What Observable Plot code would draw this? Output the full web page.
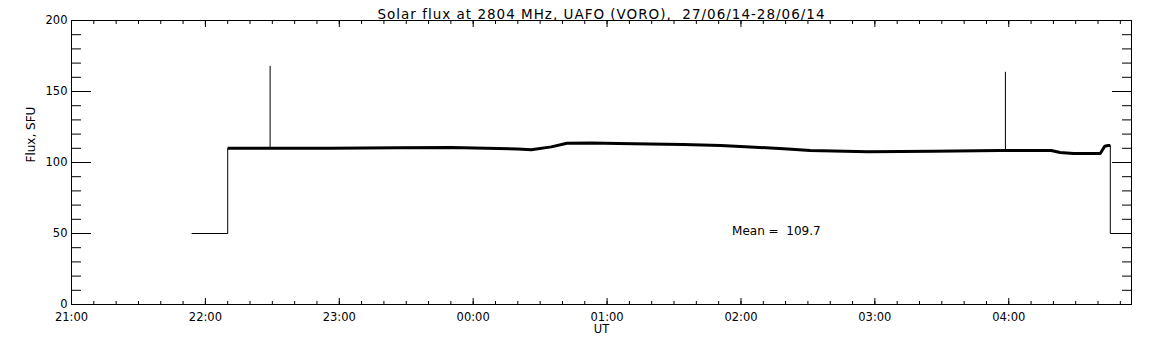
<!DOCTYPE html>
<html><head><meta charset="utf-8">
<script src="https://cdn.jsdelivr.net/npm/d3@7"></script>
<script src="https://cdn.jsdelivr.net/npm/@observablehq/plot@0.6"></script>
<style>html,body{margin:0;padding:0;background:#fff} svg{display:block}</style>
</head><body><div id="chart"></div>
<script>
// ---- data ----
const title = "Solar flux at 2804 MHz, UAFO (VORO),  27/06/14-28/06/14";
const yLabel = "Flux, SFU";
const xLabel = "UT";
const meanValue = 109.7;
const meanLabelTime = "2014-06-28T01:56";
const meanLabelFlux = 52;

const times = [
  "2014-06-27T21:54","2014-06-27T22:10","2014-06-27T22:10","2014-06-27T22:29",
  "2014-06-27T22:56","2014-06-27T23:27","2014-06-27T23:50","2014-06-28T00:20",
  "2014-06-28T00:26","2014-06-28T00:35","2014-06-28T00:42","2014-06-28T00:53",
  "2014-06-28T01:05","2014-06-28T01:19","2014-06-28T01:34","2014-06-28T01:51",
  "2014-06-28T02:04","2014-06-28T02:21","2014-06-28T02:31","2014-06-28T02:57",
  "2014-06-28T03:26","2014-06-28T03:56","2014-06-28T04:19","2014-06-28T04:23",
  "2014-06-28T04:29","2014-06-28T04:41","2014-06-28T04:43","2014-06-28T04:44:30",
  "2014-06-28T04:45:30","2014-06-28T04:45:30","2014-06-28T04:55"
];
const flux = [
  50, 50, 110.0, 110.0,
  110.0, 110.3, 110.5, 109.5,
  109.0, 111.0, 113.5, 113.8,
  113.4, 113.0, 112.7, 112.0,
  111.0, 109.5, 108.5, 107.5,
  108.0, 108.5, 108.5, 107.0,
  106.3, 106.3, 111.5, 112.0,
  112.0, 50, 50
];
const spikeTimes = ["2014-06-27T22:29", "2014-06-28T03:58:30"];
const spikeBase = [110.0, 108.5];
const spikePeak = [167.7, 163.5];

const yTicks = [0, 50, 100, 150, 200];
const yMinorTicks = [0,10,20,30,40,50,60,70,80,90,100,110,120,130,140,150,160,170,180,190,200];
const xDomain = ["2014-06-27T21:00", "2014-06-28T04:55"];

// ---- build ----
const T = s => new Date(s + "Z");
const series = times.map((t, i) => ({t: T(t), v: flux[i]}));
const spikes = spikeTimes.map((t, i) => ({t: T(t), y1: spikeBase[i], y2: spikePeak[i]}));
const x0 = T(xDomain[0]), x1 = T(xDomain[1]);
const hourTicks = d3.utcHour.range(x0, new Date(+x1 + 1));
const minorTicks = d3.utcMinute.every(10).range(x0, new Date(+x1 + 1));
const blank = () => "";

const chart = Plot.plot({
  width: 1152, height: 345,
  marginLeft: 71, marginRight: 21, marginTop: 20, marginBottom: 41,
  style: {fontFamily: "DejaVu Sans, sans-serif", fontSize: "11.5px", color: "black", background: "white"},
  x: {type: "utc", domain: [x0, x1], axis: null},
  y: {domain: [0, 200], axis: null},
  marks: [
    Plot.frame({stroke: "black", strokeWidth: 1}),
    // x ticks bottom & top
    Plot.axisX({anchor: "bottom", ticks: hourTicks, tickSize: -6, tickFormat: blank, label: null}),
    Plot.axisX({anchor: "bottom", ticks: minorTicks, tickSize: -3, tickFormat: blank, label: null}),
    Plot.axisX({anchor: "top", ticks: hourTicks, tickSize: -6, tickFormat: blank, label: null}),
    Plot.axisX({anchor: "top", ticks: minorTicks, tickSize: -3, tickFormat: blank, label: null}),
    Plot.axisX({anchor: "bottom", ticks: hourTicks, tickSize: 0, tickPadding: 8, tickFormat: d3.utcFormat("%H:%M"), label: null}),
    // y ticks left & right
    Plot.axisY({anchor: "left", ticks: yTicks, tickSize: -20, tickFormat: blank, label: null}),
    Plot.axisY({anchor: "left", ticks: yMinorTicks, tickSize: -10, tickFormat: blank, label: null}),
    Plot.axisY({anchor: "right", ticks: yTicks, tickSize: -20, tickFormat: blank, label: null}),
    Plot.axisY({anchor: "right", ticks: yMinorTicks, tickSize: -10, tickFormat: blank, label: null}),
    Plot.axisY({anchor: "left", ticks: yTicks, tickSize: 0, tickPadding: 4, tickFormat: d => String(d), label: null}),
    // data
    Plot.line(series, {x: "t", y: "v", stroke: "black", strokeWidth: 1, curve: "linear"}),
    Plot.line(series.filter(d => d.v > 60), {x: "t", y: "v", stroke: "black", strokeWidth: 3, strokeLinecap: "butt"}),
    Plot.ruleX(spikes, {x: "t", y1: "y1", y2: "y2", stroke: "black", strokeWidth: 1}),
    // annotations
    Plot.text([`Mean =  ${meanValue}`], {x: T(meanLabelTime), y: meanLabelFlux, textAnchor: "start", fontSize: 12, fill: "black"}),
    Plot.text([title], {frameAnchor: "top", dy: -11, fontSize: 13.5, fill: "black"}),
    Plot.text([xLabel], {frameAnchor: "bottom", dy: 28, fontSize: 11.5, fill: "black"}),
    Plot.text([yLabel], {frameAnchor: "left", dx: -40, rotate: -90, fontSize: 12, fill: "black"})
  ]
});
d3.select(chart).selectAll("text").filter(function() { return this.textContent === title; }).attr("letter-spacing", "1px");
document.getElementById("chart").appendChild(chart);
</script>
</body></html>
